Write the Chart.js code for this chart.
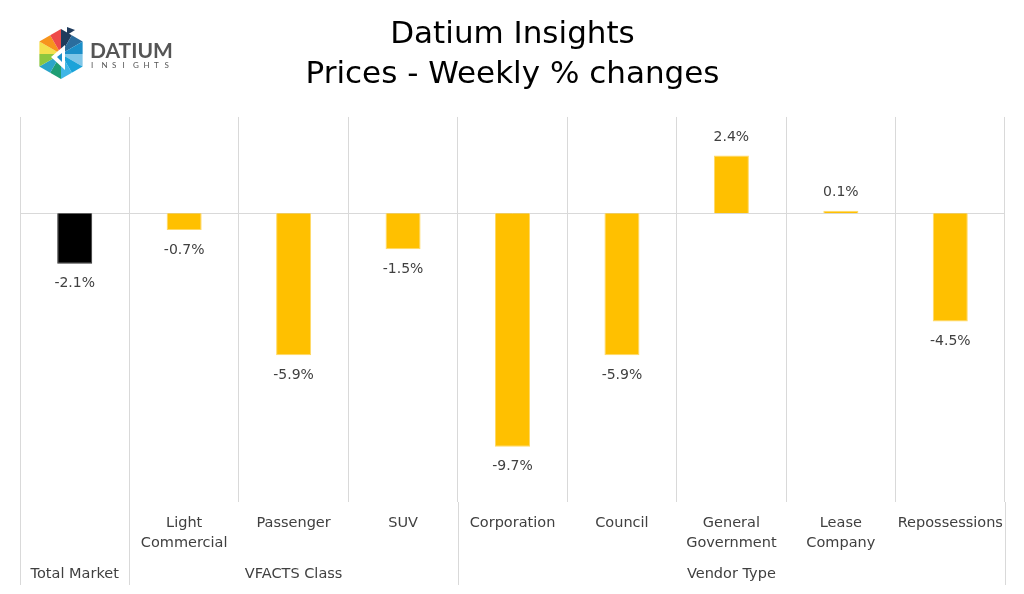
<!DOCTYPE html>
<html>
<head>
<meta charset="utf-8">
<script src="https://cdn.jsdelivr.net/npm/chart.js@4"></script>
<style>
  html, body { margin: 0; padding: 0; background: #fff; }
  #wrap { width: 1024px; height: 594px; position: relative; }
</style>
</head>
<body>
<div id="wrap"><canvas id="chart1" width="1024" height="594"></canvas></div>
<script>
'use strict';
/*----data----*/
var categories = [['Total Market'], ['Light', 'Commercial'], ['Passenger'], ['SUV'], ['Corporation'], ['Council'], ['General', 'Government'], ['Lease', 'Company'], ['Repossessions']];
var changes = [-2.1, -0.7, -5.9, -1.5, -9.7, -5.9, 2.4, 0.1, -4.5];
var barColors = ['#000000', '#FFC000', '#FFC000', '#FFC000', '#FFC000', '#FFC000', '#FFC000', '#FFC000', '#FFC000'];
var groupNames = ['Total Market', 'VFACTS Class', 'Vendor Type'];
var groupStart = [0, 1, 4];
var groupEnd = [0, 3, 8];

var FONT = "'Century Gothic', 'DejaVu Sans', sans-serif";
var TEXT = '#404040';
var GRID = '#d9d9d9';

/*----draw zero line, labels, groups, logo----*/
var extras = {
	id: 'extras',
	beforeDatasetsDraw: function(chart) {
		var c = chart.ctx, y = chart.scales.y, a = chart.chartArea;
		var y0 = Math.round(y.getPixelForValue(0)) + 0.5;
		c.save();
		c.strokeStyle = GRID;
		c.lineWidth = 1;
		c.beginPath();
		c.moveTo(a.left, y0);
		c.lineTo(a.right, y0);
		c.stroke();
		c.restore();
	},
	afterDraw: function(chart) {
		var c = chart.ctx, x = chart.scales.x, a = chart.chartArea;
		var step = x.getPixelForValue(1) - x.getPixelForValue(0);
		c.save();
		// value labels
		c.font = '14px ' + FONT;
		c.fillStyle = TEXT;
		c.textAlign = 'center';
		c.textBaseline = 'middle';
		chart.getDatasetMeta(0).data.forEach(function(bar, i) {
			var v = changes[i];
			var ly = v >= 0 ? bar.y - 18 : bar.y + 20;
			c.fillText(v.toFixed(1) + '%', bar.x, ly);
		});
		// category labels
		c.font = '14.5px ' + FONT;
		categories.forEach(function(lines, i) {
			if (i === 0) return;
			var px = x.getPixelForValue(i);
			lines.forEach(function(t, k) {
				c.fillText(t, px, 523 + k * 20);
			});
		});
		// group labels and separators
		c.strokeStyle = GRID;
		c.lineWidth = 1;
		groupNames.forEach(function(name, g) {
			var l = x.getPixelForValue(groupStart[g]) - step / 2;
			var r = x.getPixelForValue(groupEnd[g]) + step / 2;
			c.fillText(name, (l + r) / 2, 574);
			[l, r].forEach(function(px) {
				var xx = Math.round(px) + 0.5;
				c.beginPath();
				c.moveTo(xx, a.bottom);
				c.lineTo(xx, 585);
				c.stroke();
			});
		});
		// logo
		var cx = 61, cy = 54, R = 25;
		var pts = [];
		for (var k = 0; k < 6; k++) {
			var ang = -Math.PI / 2 + k * Math.PI / 3;
			pts.push([cx + R * Math.cos(ang), cy + R * Math.sin(ang)]);
		}
		var shades = [['#1f3b5c', '#2a6d9e'], ['#1b8fc9', '#7fc6e8'], ['#1aa3d9', '#3fb6e6'], ['#1f9e74', '#2ba4c9'], ['#8dc63f', '#f4e04d'], ['#f7941d', '#ee4a4a']];
		for (var k = 0; k < 6; k++) {
			var p1 = pts[k], p2 = pts[(k + 1) % 6];
			var m = [(p1[0] + p2[0]) / 2, (p1[1] + p2[1]) / 2];
			[[p1, m], [m, p2]].forEach(function(seg, s) {
				c.fillStyle = shades[k][s];
				c.beginPath();
				c.moveTo(cx, cy);
				c.lineTo(seg[0][0], seg[0][1]);
				c.lineTo(seg[1][0], seg[1][1]);
				c.closePath();
				c.fill();
			});
		}
		c.fillStyle = '#ffffff';
		c.beginPath();
		c.moveTo(cx - 10, cy + 3);
		c.lineTo(cx + 4, cy - 9);
		c.lineTo(cx + 4, cy + 16);
		c.closePath();
		c.fill();
		c.fillStyle = '#1b8fc9';
		c.beginPath();
		c.moveTo(cx - 4, cy + 3);
		c.lineTo(cx + 1, cy - 1);
		c.lineTo(cx + 1, cy + 8);
		c.closePath();
		c.fill();
		c.fillStyle = '#1f3b5c';
		c.beginPath();
		c.moveTo(cx + 6, cy - 27);
		c.lineTo(cx + 14, cy - 24);
		c.lineTo(cx + 6, cy - 19);
		c.closePath();
		c.fill();
		c.fillStyle = '#555555';
		c.textAlign = 'left';
		c.textBaseline = 'alphabetic';
		c.font = "bold 21px 'Lato', sans-serif";
		c.fillText('DATIUM', 90, 58);
		c.font = "8px 'Lato', sans-serif";
		var ix = 91;
		'INSIGHTS'.split('').forEach(function(ch) {
			c.fillText(ch, ix, 68);
			ix += 10.5;
		});
		c.restore();
	}
};

var ctx = document.getElementById('chart1').getContext('2d');
var myChart = new Chart(ctx, {
	type: 'bar',
	data: {
		labels: categories,
		datasets: [{
			data: changes,
			backgroundColor: barColors,
			borderColor: barColors.map(function(col) { return col === '#000000' ? '#333333' : '#FFD966'; }),
			borderWidth: 1,
			categoryPercentage: 1,
			barPercentage: 0.32
		}]
	},
	options: {
		responsive: false,
		animation: false,
		devicePixelRatio: 1,
		layout: {
			padding: { left: 20, right: 19, bottom: 92, top: 0 }
		},
		plugins: {
			legend: { display: false },
			tooltip: { enabled: false },
			title: {
				display: true,
				text: ['Datium Insights', 'Prices - Weekly % changes'],
				color: '#000000',
				font: { family: FONT, size: 31, weight: 'normal', lineHeight: 1.29 },
				padding: { top: 15, bottom: 22 }
			}
		},
		scales: {
			x: {
				offset: true,
				ticks: { display: false },
				grid: { display: true, offset: true, color: GRID, drawTicks: false },
				border: { display: false }
			},
			y: {
				display: false,
				min: -12,
				max: 4
			}
		}
	},
	plugins: [extras]
});
</script>
</body>
</html>
